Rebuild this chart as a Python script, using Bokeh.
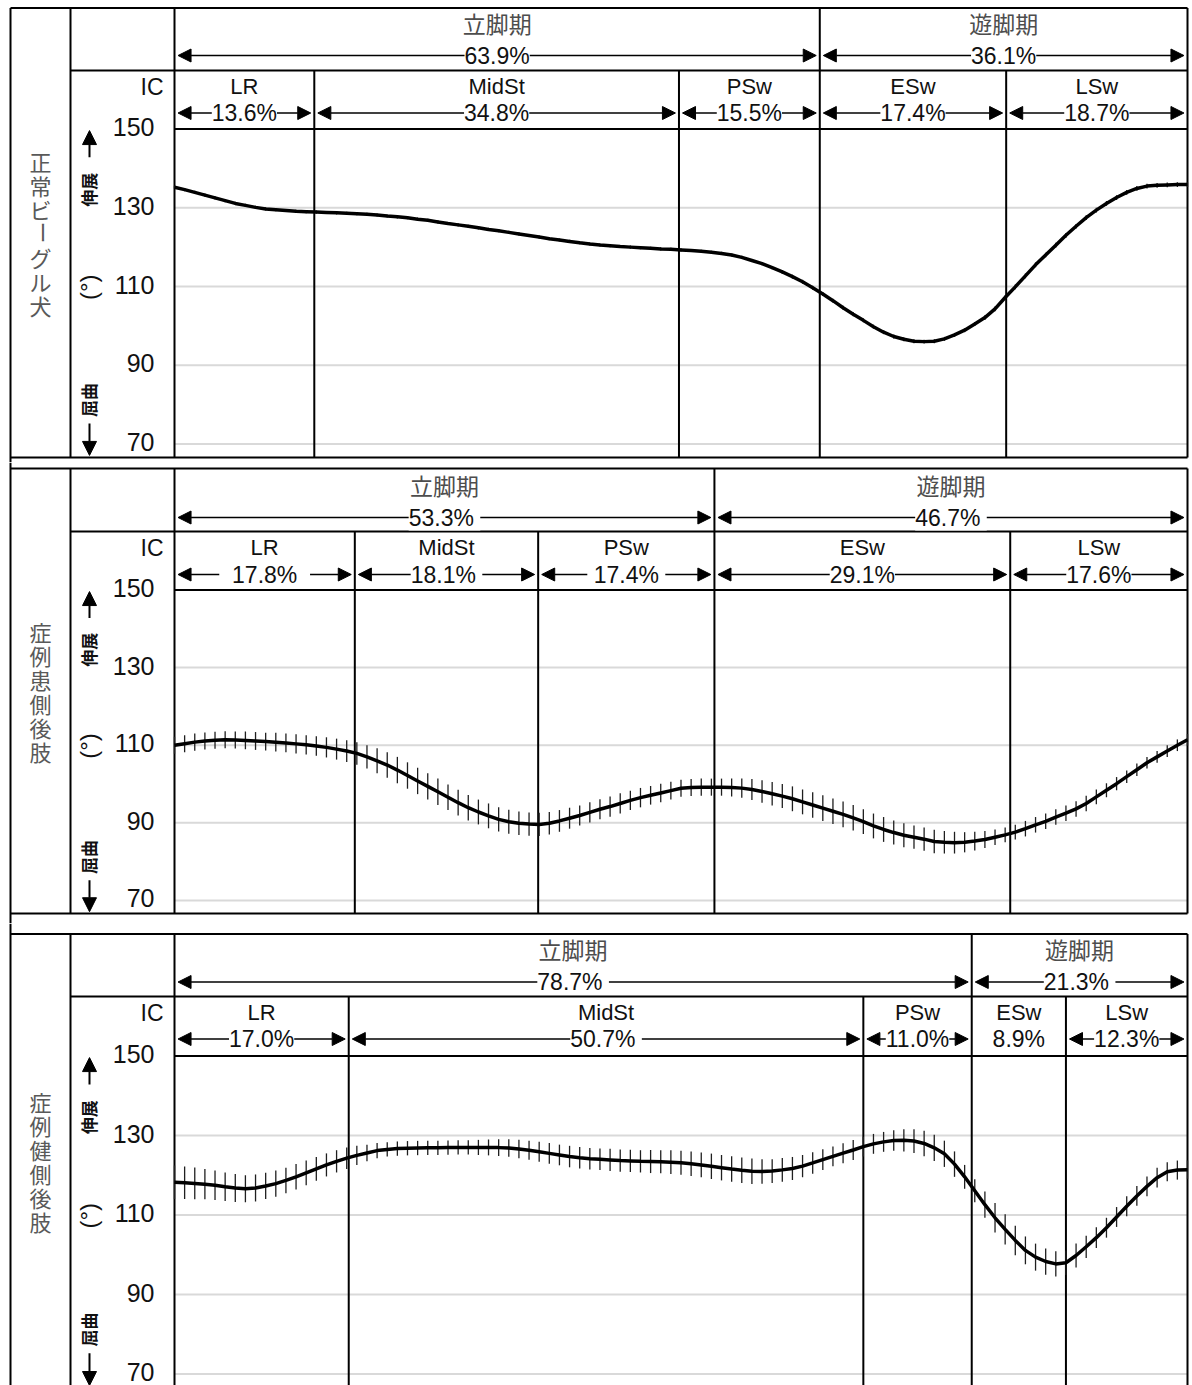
import math
from bokeh.plotting import figure
from bokeh.models import Range1d, Arrow, NormalHead, ColumnDataSource
from bokeh.layouts import column
from bokeh.embed import file_html
from bokeh.resources import INLINE
from bokeh.core.properties import value

# ---------------- data ----------------
pct = list(range(101))  # % of gait cycle

normal_mean = [
    135.2, 134.6, 133.9, 133.2, 132.5, 131.8, 131.1, 130.6, 130.1, 129.7,
    129.5, 129.3, 129.1, 129.0, 128.9, 128.8, 128.7, 128.6, 128.5, 128.35,
    128.15, 127.9, 127.7, 127.45, 127.1, 126.8, 126.4, 126.0, 125.65, 125.3,
    124.9, 124.5, 124.15, 123.75, 123.35, 122.95, 122.55, 122.15, 121.8, 121.45,
    121.1, 120.8, 120.55, 120.35, 120.15, 120.0, 119.85, 119.7, 119.55, 119.45,
    119.3, 119.15, 118.95, 118.7, 118.4, 118.0, 117.4, 116.6, 115.8, 114.8,
    113.7, 112.5, 111.2, 109.7, 108.1, 106.4, 104.6, 102.95, 101.4, 99.8,
    98.4, 97.3, 96.6, 96.1, 96.0, 96.1, 96.7, 97.7, 98.9, 100.5,
    102.1, 104.3, 107.2, 109.9, 112.7, 115.5, 118.0, 120.5, 123.0, 125.3,
    127.5, 129.4, 131.1, 132.6, 133.9, 134.9, 135.5, 135.7, 135.8, 135.9,
    135.9]
normal_sd = [
    0.4, 0.4, 0.4, 0.4, 0.4, 0.4, 0.4, 0.4, 0.4, 0.4,
    0.4, 0.4, 0.4, 0.4, 0.4, 0.4, 0.4, 0.4, 0.4, 0.4,
    0.4, 0.4, 0.4, 0.4, 0.4, 0.4, 0.4, 0.4, 0.4, 0.4,
    0.4, 0.4, 0.4, 0.4, 0.4, 0.4, 0.4, 0.4, 0.4, 0.4,
    0.4, 0.4, 0.4, 0.4, 0.4, 0.4, 0.4, 0.4, 0.4, 0.4,
    0.4, 0.4, 0.4, 0.4, 0.4, 0.4, 0.4, 0.4, 0.4, 0.4,
    0.5, 0.5, 0.5, 0.5, 0.5, 0.5, 0.5, 0.5, 0.5, 0.5,
    0.5, 0.5, 0.5, 0.5, 0.5, 0.5, 0.5, 0.5, 0.5, 0.5,
    0.6, 0.6, 0.6, 0.6, 0.6, 0.6, 0.6, 0.6, 0.6, 0.6,
    0.6, 0.6, 0.6, 0.6, 0.6, 0.6, 0.6, 0.6, 0.6, 0.6,
    0.6]

affected_mean = [
    110.0, 110.4, 110.8, 111.1, 111.3, 111.4, 111.35, 111.25, 111.1, 110.95,
    110.8, 110.6, 110.35, 110.1, 109.8, 109.45, 109.0, 108.5, 107.9, 107.0,
    106.0, 104.9, 103.6, 102.2, 100.8, 99.4, 98.0, 96.6, 95.2, 93.9,
    92.8, 91.8, 90.9, 90.3, 89.9, 89.7, 89.6, 89.9, 90.5, 91.2,
    91.9, 92.7, 93.5, 94.2, 95.0, 95.8, 96.5, 97.1, 97.7, 98.3,
    98.9, 99.1, 99.2, 99.2, 99.2, 99.1, 98.95, 98.6, 98.1, 97.5,
    96.9, 96.2, 95.4, 94.6, 93.8, 93.0, 92.2, 91.3, 90.3, 89.2,
    88.3, 87.5, 86.8, 86.3, 85.8, 85.2, 85.0, 84.9, 85.0, 85.3,
    85.7, 86.3, 86.9, 87.6, 88.5, 89.5, 90.4, 91.5, 92.5, 93.6,
    95.0, 96.7, 98.4, 100.1, 101.9, 103.7, 105.5, 107.0, 108.5, 110.0,
    111.4]
affected_sd = [
    2.2, 2.2, 2.2, 2.2, 2.2, 2.2, 2.2, 2.3, 2.3, 2.3,
    2.4, 2.4, 2.5, 2.5, 2.5, 2.6, 2.7, 2.8, 2.9, 3.0,
    3.2, 3.3, 3.4, 3.4, 3.4, 3.4, 3.4, 3.3, 3.3, 3.3,
    3.2, 3.2, 3.1, 3.1, 3.0, 3.0, 3.0, 2.9, 2.8, 2.7,
    2.6, 2.6, 2.6, 2.6, 2.6, 2.5, 2.5, 2.4, 2.4, 2.3,
    2.2, 2.2, 2.2, 2.2, 2.2, 2.3, 2.5, 2.7, 2.9, 3.0,
    3.1, 3.2, 3.2, 3.3, 3.3, 3.3, 3.3, 3.3, 3.2, 3.2,
    3.2, 3.1, 3.1, 3.0, 3.0, 3.0, 2.9, 2.8, 2.6, 2.4,
    2.2, 2.0, 1.9, 1.9, 2.0, 2.0, 2.0, 2.0, 2.0, 2.0,
    2.0, 1.9, 1.8, 1.7, 1.6, 1.6, 1.5, 1.5, 1.5, 1.5,
    1.5]

sound_mean = [
    118.25, 118.1, 117.95, 117.75, 117.5, 117.1, 116.8, 116.6, 116.8, 117.3,
    117.9, 118.7, 119.6, 120.6, 121.6, 122.6, 123.5, 124.3, 125.0, 125.6,
    126.2, 126.5, 126.7, 126.8, 126.85, 126.9, 126.9, 126.95, 127.0, 127.0,
    127.0, 127.0, 126.95, 126.85, 126.6, 126.3, 125.9, 125.5, 125.1, 124.7,
    124.4, 124.15, 124.0, 123.85, 123.7, 123.6, 123.5, 123.45, 123.4, 123.3,
    123.15, 122.9, 122.6, 122.25, 121.9, 121.55, 121.25, 121.0, 120.95, 121.05,
    121.35, 121.7, 122.3, 123.1, 123.95, 124.75, 125.55, 126.35, 127.2, 127.9,
    128.4, 128.75, 128.8, 128.6, 128.0, 126.9, 125.4, 122.8, 119.6, 116.1,
    112.6, 109.3, 106.4, 103.6, 101.1, 99.4, 98.3, 97.7, 98.0, 99.8,
    102.0, 104.3, 106.8, 109.5, 112.2, 114.8, 117.2, 119.4, 120.9, 121.3,
    121.4]
sound_sd = [
    4.2, 4.1, 4.0, 3.8, 3.7, 3.6, 3.5, 3.4, 3.4, 3.3,
    3.3, 3.2, 3.2, 3.1, 3.0, 2.9, 2.8, 2.7, 2.4, 2.1,
    1.9, 1.8, 1.8, 1.8, 1.8, 1.8, 1.8, 1.8, 1.8, 1.8,
    1.9, 2.0, 2.1, 2.2, 2.3, 2.4, 2.5, 2.6, 2.6, 2.7,
    2.7, 2.7, 2.7, 2.8, 2.8, 2.8, 2.8, 2.9, 2.9, 3.0,
    3.0, 3.1, 3.1, 3.2, 3.2, 3.2, 3.2, 3.2, 3.1, 3.0,
    3.0, 2.9, 2.8, 2.7, 2.6, 2.5, 2.5, 2.5, 2.5, 2.5,
    2.5, 2.6, 2.8, 3.0, 3.2, 3.3, 3.3, 3.2, 3.0, 2.9,
    3.3, 3.7, 3.8, 3.7, 3.5, 3.4, 3.3, 3.2, 3.1, 3.0,
    2.8, 2.6, 2.5, 2.5, 2.5, 2.5, 2.5, 2.5, 2.4, 2.4,
    2.3]

row_titles = ["正常ビーグル犬", "症例患側後肢", "症例健側後肢"]
phase_names = ["立脚期", "遊脚期"]
sub_names = ["LR", "MidSt", "PSw", "ESw", "LSw"]
y_ticks = [150, 130, 110, 90, 70]

NB = "\u00a0"
normal_phase_pct = ["63.9%", "36.1%"]
normal_sub_pct = ["13.6%", "34.8%", "15.5%", "17.4%", "18.7%"]
normal_bounds = [13.8, 49.8, 63.7, 82.1]

affected_phase_pct = ["53.3%" + NB, "46.7%" + NB]
affected_sub_pct = [NB * 2 + "17.8%" + NB * 2, "18.1%" + NB, NB + "17.4%" + NB, "29.1%", "17.6%"]
affected_bounds = [17.8, 35.9, 53.3, 82.5]

sound_phase_pct = ["78.7%" + NB, "21.3%" + NB]
sound_sub_pct = ["17.0%", "50.7%" + NB, "11.0%", "8.9%", "12.3%"]
sound_bounds = [17.2, 68.0, 78.7, 88.0]
sound_sub_arrows = [True, True, True, False, True]

# ---------------- layout ----------------
LATIN = value("Liberation Sans")
CJK = value("Noto Sans CJK JP")
FIG_W = 1192
PAGE_LEFT = 0
X0_PX = 174.0
PX_PER_PCT = 10.13


def xp(px):
    return (px - X0_PX) / PX_PER_PCT


panel_cfg = [
    dict(top=0, h=462, p150=128.5, ppd=3.9375, border_top=7.5, head_div=70, bottom=457,
         phase_lab=22, phase_arr=55, sub_lab=86, sub_arr=112.5, mid=232),
    dict(top=462, h=461, p150=589.5, ppd=3.881, border_top=468, head_div=531, bottom=913,
         phase_lab=484, phase_arr=517, sub_lab=547, sub_arr=574, mid=690),
    dict(top=923, h=462, p150=1055.5, ppd=3.975, border_top=933.5, head_div=996, bottom=None,
         phase_lab=948, phase_arr=981.5, sub_lab=1012, sub_arr=1038.5, mid=1160),
]


def make_panel(cfg, title, mean, sd, bounds, phase_pct, sub_pct, sub_arrows, first):
    ppd, p150 = cfg["ppd"], cfg["p150"]

    def yp(py):
        return 150 - (py - p150) / ppd

    top, h = cfg["top"], cfg["h"]
    fb, ft = yp(top + h), yp(top)
    p = figure(width=FIG_W, height=h, title=None,
               x_range=Range1d(xp(PAGE_LEFT), xp(PAGE_LEFT + FIG_W)),
               y_range=Range1d(fb, ft),
               output_backend="svg", toolbar_location=None,
               x_axis_location=None, y_axis_location=None,
               min_border=0, outline_line_color=None,
               background_fill_color="white", border_fill_color="white")
    p.xgrid.visible = False
    p.ygrid.visible = False

    y_bt = yp(cfg["border_top"])
    y_hd = yp(cfg["head_div"])
    y_bot = yp(cfg["bottom"]) if cfg["bottom"] else fb - 2

    # light grid
    gy = [t for t in y_ticks if t != 150]
    p.segment(x0=[0] * len(gy), y0=gy, x1=[100] * len(gy), y1=gy,
              line_color="#d9d9d9", line_width=2)

    # table frame
    hy = [y_bt, y_hd, 150, y_bot]
    p.segment(x0=[xp(10), xp(70), 0, xp(10)], y0=hy, x1=[100] * 4, y1=hy,
              line_color="black", line_width=2)
    vx = [xp(10), xp(70), 0, 100, bounds[2], bounds[0], bounds[1], bounds[3]]
    vy0 = [fb] + [y_bot] * 7
    vy1 = [y_bt if first else ft, y_bt, y_bt, y_bt, y_bt, y_hd, y_hd, y_hd]
    p.segment(x0=vx, y0=vy0, x1=vx, y1=vy1, line_color="black", line_width=2)

    # data: mean with SD whiskers
    lo = [m - s for m, s in zip(mean, sd)]
    hi = [m + s for m, s in zip(mean, sd)]
    p.segment(x0=pct, y0=lo, x1=pct, y1=hi, line_color="#1f1f1f", line_width=1.3)
    p.line(pct, mean, line_color="black", line_width=3.5)

    # header
    edges = [0] + list(bounds) + [100]
    sub_mid = [(edges[i] + edges[i + 1]) / 2 for i in range(5)]
    pedges = [0, bounds[2], 100]
    ph_mid = [(pedges[i] + pedges[i + 1]) / 2 for i in range(2)]

    gap = 0.35
    ax0 = [pedges[i] + gap for i in range(2)]
    ax1 = [pedges[i + 1] - gap for i in range(2)]
    ay = [yp(cfg["phase_arr"])] * 2
    for i in range(5):
        if sub_arrows[i]:
            ax0.append(edges[i] + gap)
            ax1.append(edges[i + 1] - gap)
            ay.append(yp(cfg["sub_arr"]))
    src = ColumnDataSource(dict(x0=ax0, x1=ax1, y=ay))
    p.add_layout(Arrow(x_start="x0", y_start="y", x_end="x1", y_end="y", source=src,
                       start=NormalHead(size=13, fill_color="black", line_color="black"),
                       end=NormalHead(size=13, fill_color="black", line_color="black"),
                       line_color="black", line_width=1.5, level="underlay"))

    p.text(ph_mid, [yp(cfg["phase_lab"])] * 2, phase_names, text_font=CJK,
           text_font_size="23px", text_color="#4d4d4d", text_align="center",
           text_baseline="middle")
    p.text(ph_mid, [yp(cfg["phase_arr"])] * 2, phase_pct, text_font=LATIN,
           text_font_size="23px", text_color="#111111", text_align="center",
           text_baseline="middle", background_fill_color="white")
    p.text(sub_mid, [yp(cfg["sub_lab"])] * 5, sub_names, text_font=LATIN,
           text_font_size="22px", text_color="#111111", text_align="center",
           text_baseline="middle")
    p.text(sub_mid, [yp(cfg["sub_arr"])] * 5, sub_pct, text_font=LATIN,
           text_font_size="23px", text_color="#111111", text_align="center",
           text_baseline="middle", background_fill_color="white")

    # left columns
    n = len(title)
    pitch = 24
    cy = [yp(cfg["mid"] + (i - (n - 1) / 2) * pitch) for i in range(n)]
    p.text([xp(40)] * n, cy, list(title),
           angle=[math.pi / 2 if c == "ー" else 0 for c in title],
           text_font=CJK, text_font_size="22px", text_color="#595959",
           text_align="center", text_baseline="middle")

    p.text([xp(154)] * len(y_ticks), y_ticks, [str(t) for t in y_ticks],
           text_font=LATIN, text_font_size="25px", text_color="#111111",
           text_align="right", text_baseline="middle", y_offset=-2)
    p.text([xp(163)], [yp(cfg["sub_lab"])], ["IC"], text_font=LATIN,
           text_font_size="23px", text_color="#111111", text_align="right",
           text_baseline="middle")

    p.text([xp(88)] * 2, [134.6, 81.2], ["伸展", "屈曲"],
           angle=math.pi / 2, text_font=CJK, text_font_size="17px",
           text_font_style="bold", text_color="#111111",
           text_align="center", text_baseline="middle")
    p.text([xp(88)], [109.8], ["(°)"],
           angle=math.pi / 2, text_font=LATIN, text_font_size="24px",
           text_color="#111111", text_align="center", text_baseline="middle")
    for ys, ye in [(142.8, 149.6), (75.2, 67.1)]:
        p.add_layout(Arrow(x_start=xp(89), y_start=ys, x_end=xp(89), y_end=ye,
                           end=NormalHead(size=14, fill_color="black", line_color="black"),
                           line_color="black", line_width=2))
    return p


p1 = make_panel(panel_cfg[0], row_titles[0], normal_mean, normal_sd, normal_bounds,
                normal_phase_pct, normal_sub_pct, [True] * 5, True)
p2 = make_panel(panel_cfg[1], row_titles[1], affected_mean, affected_sd, affected_bounds,
                affected_phase_pct, affected_sub_pct, [True] * 5, False)
p3 = make_panel(panel_cfg[2], row_titles[2], sound_mean, sound_sd, sound_bounds,
                sound_phase_pct, sound_sub_pct, sound_sub_arrows, False)

layout = column(p1, p2, p3, spacing=0)
open("out.html", "w").write(file_html(layout, INLINE))
